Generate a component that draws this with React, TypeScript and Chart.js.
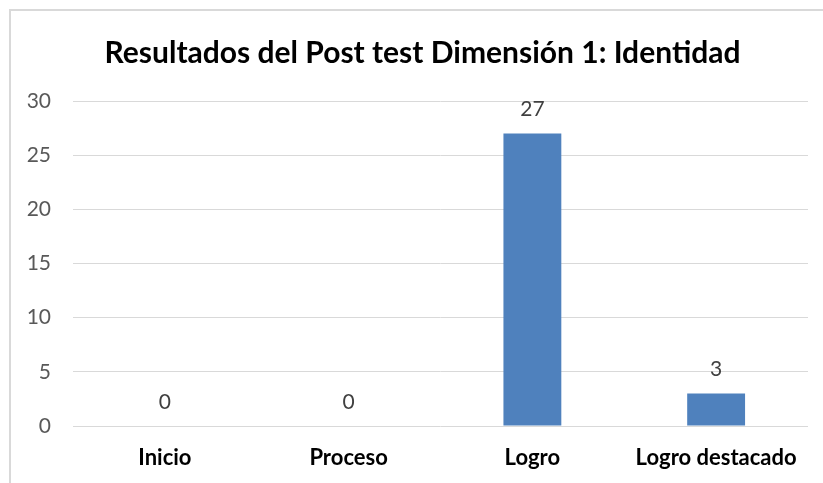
import React, { useEffect, useRef } from "react";
import { Chart, registerables } from "chart.js";

Chart.register(...registerables);

const categories = ["Inicio", "Proceso", "Logro", "Logro destacado"];
const values = [0, 0, 27, 3];
const titleText = "Resultados del Post test Dimensión 1: Identidad";
const yMin = 0;
const yMax = 30;
const yStep = 5;

const FONT = "Lato, 'Open Sans', sans-serif";

const borderPlugin = {
  id: "frameBorder",
  beforeDraw(chart: any) {
    const ctx = chart.ctx;
    ctx.save();
    ctx.fillStyle = "#ffffff";
    ctx.fillRect(0, 0, chart.width, chart.height);
    ctx.strokeStyle = "#d9d9d9";
    ctx.lineWidth = 2;
    ctx.strokeRect(10, 10, chart.width + 20, chart.height + 20);
    ctx.restore();
  },
};

// shift the title box so it is centred on the frame rather than the canvas
const titleShiftPlugin = {
  id: "titleShift",
  afterLayout(chart: any) {
    if (chart.titleBlock) {
      chart.titleBlock.left = 37;
    }
  },
};

const dataLabelPlugin = {
  id: "dataLabels",
  afterDatasetsDraw(chart: any) {
    const ctx = chart.ctx;
    ctx.save();
    ctx.font = `21px ${FONT}`;
    ctx.fillStyle = "#404040";
    ctx.textAlign = "center";
    ctx.textBaseline = "middle";
    chart.data.datasets.forEach((ds: any, di: number) => {
      const meta = chart.getDatasetMeta(di);
      meta.data.forEach((el: any, i: number) => {
        ctx.fillText(String(ds.data[i]), el.x, el.y - 24);
      });
    });
    ctx.restore();
  },
};

export default function App() {
  const ref = useRef<HTMLCanvasElement>(null);
  useEffect(() => {
    document.body.style.margin = "0";
    if (!ref.current) return;
    const chart = new Chart(ref.current, {
      type: "bar",
      data: {
        labels: categories,
        datasets: [
          {
            data: values,
            backgroundColor: "#4f81bd",
            borderWidth: 0,
            barPercentage: 0.315,
            categoryPercentage: 1,
          },
        ],
      },
      options: {
        animation: false,
        responsive: false,
        layout: { padding: { left: 0, right: 15, top: 0, bottom: 0 } },
        plugins: {
          legend: { display: false },
          tooltip: { enabled: false },
          title: {
            display: true,
            text: titleText,
            color: "#000000",
            font: { family: FONT, size: 30, weight: "bold" },
            padding: { top: 35, bottom: 30 },
          },
        },
        scales: {
          x: {
            grid: { display: false, drawTicks: false },
            border: { display: false },
            ticks: {
              color: "#000000",
              font: { family: FONT, size: 22, weight: "bold" },
              padding: 19,
              maxRotation: 0,
              autoSkip: false,
            },
            afterFit(scale: any) {
              scale.height = 57;
            },
          },
          y: {
            min: yMin,
            max: yMax,
            grid: { color: "#d9d9d9", lineWidth: 1, drawTicks: false },
            border: { display: false },
            ticks: {
              stepSize: yStep,
              color: "#595959",
              font: { family: FONT, size: 21 },
              padding: 22,
            },
            afterFit(scale: any) {
              scale.width = 73;
            },
          },
        },
      },
      plugins: [borderPlugin, titleShiftPlugin, dataLabelPlugin],
    });
    return () => chart.destroy();
  }, []);
  return (
    <div style={{ position: "fixed", left: 0, top: 0 }}>
      <canvas ref={ref} width={823} height={483} />
    </div>
  );
}
